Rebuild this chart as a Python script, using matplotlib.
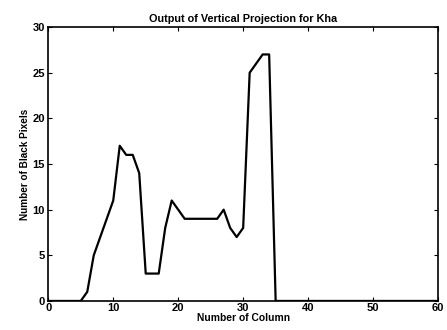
import matplotlib
matplotlib.use('Agg')
import matplotlib.pyplot as plt

# ── Data ─────────────────────────────────────────────────────────────────────
columns = list(range(0, 61))
pixels = ([0, 0, 0, 0, 0, 0,            # 0..5
           1, 5, 7, 9, 11,              # 6..10
           17, 16, 16, 14, 3, 3, 3,     # 11..17
           8, 11, 10, 9, 9, 9, 9, 9, 9, # 18..26
           10, 8, 7, 8,                 # 27..30
           25, 26, 27, 27, 0]           # 31..35
          + [0] * 25)                   # 36..60

plt.rcParams.update({
    'font.family': 'Liberation Sans',
    'font.weight': 'bold',
    'xtick.direction': 'in',
    'ytick.direction': 'in',
    'xtick.top': True,
    'ytick.right': True,
})

fig = plt.figure(figsize=(4.47, 3.30), dpi=100)
ax = fig.add_axes([0.108, 0.088, 0.872, 0.830])

ax.plot(columns, pixels, color='black', linewidth=1.6)

ax.set_xlim(0, 60)
ax.set_ylim(0, 30)
ax.set_xticks(range(0, 61, 10))
ax.set_yticks(range(0, 31, 5))
ax.tick_params(labelsize=8, length=3, width=0.8)
ax.tick_params(axis='x', pad=1.5)
ax.tick_params(axis='y', pad=2.5)
for lbl in ax.get_xticklabels() + ax.get_yticklabels():
    lbl.set_fontweight('bold')
for s in ax.spines.values():
    s.set_linewidth(1.2)

ax.set_title('Output of Vertical Projection for Kha', fontsize=7.8, fontweight='bold', pad=4)
ax.set_xlabel('Number of Column', fontsize=7.4, fontweight='bold', labelpad=0)
ax.set_ylabel('Number of Black Pixels', fontsize=7.2, fontweight='bold', labelpad=2)

fig.savefig('out.png', dpi=100)
